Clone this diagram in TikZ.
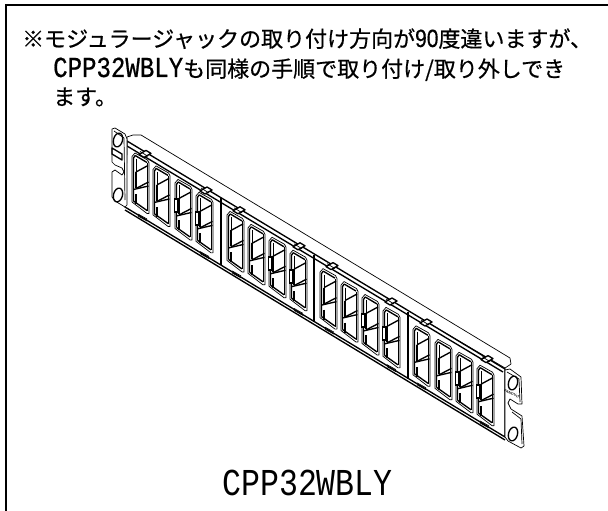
\documentclass[tikz,border=0pt]{standalone}
\usepackage{fontspec}
\newfontfamily\cjk[FakeBold=0.6]{Noto Sans CJK JP}
\newfontfamily\lat[FakeStretch=0.83]{Liberation Mono}
\newfontfamily\latb[FakeStretch=0.83,FakeBold=0.6]{Liberation Mono}
\newfontfamily\digits[FakeStretch=0.84,FakeBold=0.4]{Liberation Sans}
\tikzset{
 x=1pt,y=-1pt,
 thinl/.style={line width=0.7pt,black,line join=round},
 thickl/.style={line width=1.35pt,black,line join=round},
 heading/.style={anchor=base west,inner sep=0pt,font=\fontsize{22}{22}\selectfont\cjk},
 jackbox/.pic={
  \draw[thinl,fill=white] (0,49)--(0,3.5)--(3,0)--(15.5,7)--(17,10)--(17,60.5)--(15,60.5)--cycle;
  \draw[thickl] (1.5,48)--(1.5,5)--(3.2,2.5);
  \draw[thickl] (3.2,2.5)--(15,9.5);
  \draw[thickl] (4,19)--(16,12.5);
  \draw[thinl] (4,6)--(4,19);
  \draw[thickl] (4,19)--(4,35);
  \draw[thickl] (4,35.5)--(16.5,29);
  \draw[thickl] (1.5,36.5)--(16.5,33);
  \draw[thickl] (4,41)--(4,51);
  \draw[thickl] (1.5,48)--(15,57.5);
  \draw[thinl] (15.8,10)--(15.8,58);
 }
}
\begin{document}
\begin{tikzpicture}
\useasboundingbox (0,0) rectangle (608,511);
\fill[white] (0,0) rectangle (608,511);
\draw[line width=2pt] (5.5,530)--(5.5,5.5)--(620,5.5);
\node[heading] (l1) at (22,47) {※モジュラージャックの取り付け方向が{\fontsize{25}{25}\selectfont\digits 90}度違いますが、};
\node[heading] (l2) at (53,77) {{\fontsize{29}{29}\selectfont\latb CPP32WBLY}も同様の手順で取り付け/取り外しでき};
\node[heading] (l3) at (53,105) {ます。};
\node[anchor=base,inner sep=0pt,font=\fontsize{38}{38}\selectfont\lat] (name) at (307.5,495) {CPP32WBLY};
% top rim
\draw[thinl,fill=white] (127,137)--(133,135)--(141,135)--(510,358)--(511,364)--(505,368)--(127,146)--cycle;
% front plate
\draw[thickl,fill=white] (127,141)--(505,369)--(505,437)--(125,207)--cycle;
\draw[thickl] (127,146)--(503,372);
\draw[thickl] (125,210)--(505,440);
% left ear
\draw[thinl,fill=white] (112,129)--(115,128)--(125,134)--(127,139)--(127,205)--(125,207)--(115,201)--(112,197)--(112,172)--(115,170)--(122,175)--(124,172)--(122,168)--(115,165)--(112,162)--cycle;
\draw[thinl] (114,131)--(124,138)--(125,200);
\draw[thickl] (112,148)--(122,154)--(122,160)--(112,154)--cycle;
\draw[thickl,rotate around={-15:(118,140)}] (118,140) ellipse (4.5 and 7);
\draw[thickl,rotate around={-15:(118,195)}] (118,195) ellipse (4.5 and 7);
% right ear
\draw[thinl,fill=white] (505,370)--(510,369)--(521,377)--(522,404)--(518,404)--(510,399)--(508,403)--(511,409)--(522,416)--(524,446)--(521,448)--(508,441)--(505,437)--cycle;
\draw[thinl] (507,372)--(519,379)--(520,402)(512,412)--(521,419)--(522,444);
\draw[thickl,rotate around={-15:(513,383)}] (513,383) ellipse (4.5 and 7);
\draw[thickl,rotate around={-15:(513,434)}] (513,434) ellipse (4.5 and 7);
\node[inner sep=0pt,font=\fontsize{3.5}{3.5}\selectfont\bfseries\sffamily,rotate=-25] (brand) at (512,394) {PANDUIT};
% partitions
\foreach \px in {221,314,408}{ \pgfmathsetmacro{\py}{198+(\px-221)*0.61}
  \draw[thickl] (\px,\py)--(\px,\py+67); }
% jacks
\foreach \jx in {132,153,175,196,227,248,269,290,320,341,362,383,413,435,456,477}{
  \pgfmathsetmacro{\jy}{153+(\jx-132)*0.615}
  \pic at (\jx,\jy) {jackbox};
}
% tabs beside some jacks
\foreach \tx in {175,196,269,290,362,383,456,477}{
  \pgfmathsetmacro{\ty}{153+(\tx-132)*0.615}
  \fill[black] (\tx-1,\ty+19) rectangle (\tx+3,\ty+34);
  \fill[white] (\tx,\ty+21) rectangle (\tx+2,\ty+32);
}
% clips on top and bottom
\foreach \cx in {142,203,236,296,329,388,423,484}{
  \pgfmathsetmacro{\cy}{150+(\cx-133)*0.6}
  \draw[thickl,fill=white] (\cx-3,\cy-1)--(\cx+4,\cy-5)--(\cx+9,\cy-2)--(\cx+2,\cy+2)--cycle;
  \draw[thinl] (\cx-2,\cy-4)--(\cx+6,\cy+1);
}
\foreach \cx in {138,200,232,294,325,387,417,480}{
  \pgfmathsetmacro{\cy}{211+(\cx-133)*0.605}
  \draw[thinl] (\cx,\cy)--(\cx+9,\cy+5);
  \draw[thinl] (\cx,\cy+2)--(\cx+9,\cy+7);
}
\end{tikzpicture}
\end{document}
